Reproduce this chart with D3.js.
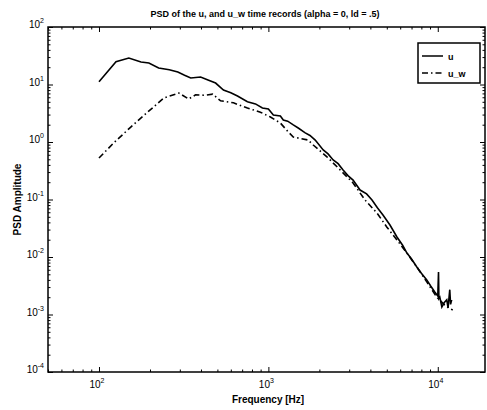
<!DOCTYPE html>
<html>
<head>
<meta charset="utf-8">
<script src="https://cdn.jsdelivr.net/npm/d3@7"></script>
<style>
    body { margin: 0; background: #fff; }
    svg { font-family: "Liberation Sans", Arial, sans-serif; }
    .tick line { stroke: #000; }
    .domain { display: none; }
</style>
</head>
<body>
<div id="chart"></div>
<script>
// data
var titleText = 'PSD of the u, and u_w time records (alpha = 0, ld = .5)'
var xLabel = 'Frequency [Hz]'
var yLabel = 'PSD Amplitude'
var xDecades = [2, 3, 4]
var yDecades = [-4, -3, -2, -1, 0, 1, 2]

var uFreq = [100, 126, 150, 177, 197, 225, 260, 292, 320, 348, 398, 440, 488, 543, 600, 657, 752, 839, 922,
    1000, 1070, 1177, 1225, 1300, 1403, 1500, 1650, 1760, 1890, 2107, 2250, 2412, 2580, 2760, 2950, 3162,
    3477, 3800, 4090, 4400, 4747, 5220, 5740, 6200, 6575, 7000, 7520, 8000, 8610, 9100, 9600, 10000,
    10100, 10150, 10280, 10570, 10900, 11300, 11500, 11770, 11900, 12080]
var uVals = [11.2, 25, 28.9, 24.6, 23.6, 19.4, 18, 16.5, 14.5, 13.0, 13.5, 12, 10.6, 8.0, 7.2, 6.3, 5.0, 4.6, 3.9,
    3.75, 2.95, 2.83, 2.41, 2.3, 1.98, 1.75, 1.44, 1.3, 1.08, 0.727, 0.62, 0.487, 0.42, 0.326, 0.26, 0.218,
    0.146, 0.125, 0.098, 0.072, 0.0537, 0.036, 0.0223, 0.016, 0.0117, 0.0092, 0.0067, 0.0052, 0.004, 0.0031, 0.00246, 0.0021,
    0.0055, 0.0019, 0.0020, 0.00135, 0.0016, 0.0018, 0.0013, 0.0027, 0.0015, 0.0018]

var uwFreq = [100, 122, 154, 194, 241, 296, 338, 372, 420, 469, 522, 622, 752, 897, 1028, 1177, 1312, 1403,
    1719, 1840, 2224, 2654, 3162, 3720, 4380, 5010, 5740, 6575, 7520, 8610, 9860, 10990, 11600, 12250]
var uwVals = [0.527, 0.96, 1.82, 3.32, 5.8, 7.1, 5.6, 6.6, 6.5, 6.8, 5.2, 4.8, 3.9, 3.3, 2.72, 2.14, 1.49, 1.22,
    1.08, 0.887, 0.548, 0.326, 0.194, 0.098, 0.058, 0.033, 0.0198, 0.0117, 0.0067, 0.0037, 0.002, 0.00146, 0.0013, 0.0012]

var seriesNames = ['u', 'u_w']

var width = 487, height = 410
var margin = {top: 27, right: 2, bottom: 38, left: 48}

var svg = d3.select('#chart').append('svg')
    .attr('width', width)
    .attr('height', height)

var x = d3.scaleLog()
    .domain([50, 19000])
    .range([margin.left, width - margin.right])

var y = d3.scaleLog()
    .domain([1e-4, 1e2])
    .range([height - margin.bottom, margin.top])

var x0 = x.range()[0], x1 = x.range()[1]
var y0 = y.range()[0], y1 = y.range()[1]

// minor ticks (inside, all four sides)
var xMajor = xDecades.map(function(d) { return Math.pow(10, d) })
var yMajor = yDecades.map(function(d) { return Math.pow(10, d) })
var xMinor = x.ticks().filter(function(v) { return xMajor.indexOf(v) < 0 })
var yMinor = y.ticks().filter(function(v) { return yMajor.indexOf(v) < 0 })

function tickAxis(axis, scale, vals, size, pos) {
    var g = svg.append('g')
        .attr('transform', pos)
        .call(axis(scale).tickValues(vals).tickSize(size).tickFormat(''))
    g.selectAll('.tick line').attr('stroke-width', 1)
    return g
}
tickAxis(d3.axisBottom, x, xMinor, -2.5, 'translate(0,' + y0 + ')')
tickAxis(d3.axisBottom, x, xMajor, -5, 'translate(0,' + y0 + ')')
tickAxis(d3.axisTop, x, xMinor, -2.5, 'translate(0,' + y1 + ')')
tickAxis(d3.axisTop, x, xMajor, -5, 'translate(0,' + y1 + ')')
tickAxis(d3.axisLeft, y, yMinor, -2.5, 'translate(' + x0 + ',0)')
tickAxis(d3.axisLeft, y, yMajor, -5, 'translate(' + x0 + ',0)')
tickAxis(d3.axisRight, y, yMinor, -2.5, 'translate(' + x1 + ',0)')
tickAxis(d3.axisRight, y, yMajor, -5, 'translate(' + x1 + ',0)')

// frame
svg.append('rect')
    .attr('x', x0).attr('y', y1)
    .attr('width', x1 - x0).attr('height', y0 - y1)
    .attr('fill', 'none')
    .attr('stroke', '#000')
    .attr('stroke-width', 1.5)

// tick labels, 10 with superscript
function powerLabel(sel, e) {
    sel.append('tspan').text('10')
    sel.append('tspan').attr('dy', -5).attr('font-size', 7).text(e)
}
xDecades.forEach(function(e) {
    var t = svg.append('text')
        .attr('x', x(Math.pow(10, e)) - 2)
        .attr('y', y0 + 16)
        .attr('font-size', 10)
        .attr('text-anchor', 'middle')
    powerLabel(t, e)
})
yDecades.forEach(function(e) {
    var t = svg.append('text')
        .attr('x', x0 - 4)
        .attr('y', y(Math.pow(10, e)) + 1)
        .attr('font-size', 10)
        .attr('text-anchor', 'end')
    powerLabel(t, e)
})

// titles
svg.append('text')
    .attr('x', 265).attr('y', 17)
    .attr('text-anchor', 'middle')
    .attr('font-size', 9)
    .attr('font-weight', 'bold')
    .text(titleText)
svg.append('text')
    .attr('x', 268).attr('y', 403)
    .attr('text-anchor', 'middle')
    .attr('font-size', 10)
    .attr('font-weight', 'bold')
    .text(xLabel)
svg.append('text')
    .attr('transform', 'translate(21,' + ((y0 + y1) / 2) + ') rotate(-90)')
    .attr('text-anchor', 'middle')
    .attr('font-size', 10)
    .attr('font-weight', 'bold')
    .text(yLabel)

// curves
var line = d3.line()
    .x(function(d) { return x(d[0]) })
    .y(function(d) { return y(d[1]) })

var uData = d3.zip(uFreq, uVals)
var uwData = d3.zip(uwFreq, uwVals)
var dashes = [null, '6,3,1.5,3']

svg.append('path')
    .datum(uwData)
    .attr('d', line)
    .attr('fill', 'none')
    .attr('stroke', '#000')
    .attr('stroke-width', 1.6)
    .attr('stroke-dasharray', dashes[1])
svg.append('path')
    .datum(uData)
    .attr('d', line)
    .attr('fill', 'none')
    .attr('stroke', '#000')
    .attr('stroke-width', 1.6)

// legend
var lg = svg.append('g').attr('transform', 'translate(418,43)')
lg.append('rect')
    .attr('width', 62).attr('height', 40)
    .attr('fill', '#fff')
    .attr('stroke', '#000')
    .attr('stroke-width', 1.5)
seriesNames.forEach(function(name, i) {
    var yy = 13 + i * 17
    lg.append('line')
        .attr('x1', 4).attr('x2', 25)
        .attr('y1', yy).attr('y2', yy)
        .attr('stroke', '#000')
        .attr('stroke-width', 1.5)
        .attr('stroke-dasharray', dashes[i])
    lg.append('text')
        .attr('x', 30).attr('y', yy + 3.5)
        .attr('font-size', 9)
        .attr('font-weight', 'bold')
        .text(name)
})
</script>
</body>
</html>
